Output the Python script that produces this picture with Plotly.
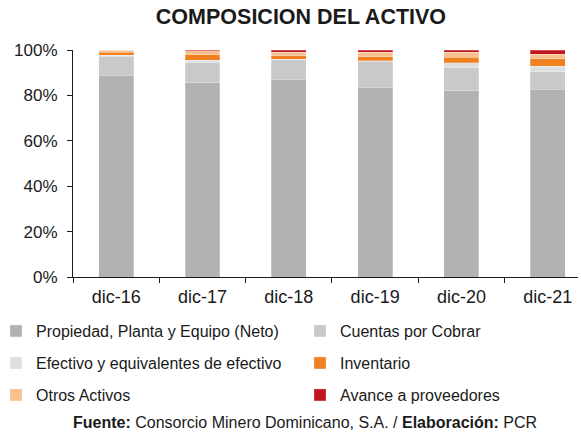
import plotly.graph_objects as go

categories = ["dic-16", "dic-17", "dic-18", "dic-19", "dic-20", "dic-21"]
ppe = [88.9, 85.6, 86.8, 83.3, 82.1, 82.8]
cuentas = [8.3, 8.7, 8.8, 11.7, 10.0, 7.6]
efectivo = [0.4, 1.2, 0.3, 0.3, 2.2, 2.4]
inventario = [1.5, 2.3, 1.6, 1.8, 2.6, 3.4]
otros = [0.9, 1.8, 1.6, 2.0, 2.2, 2.0]
avance = [0.0, 0.4, 0.9, 0.9, 0.9, 1.8]

series_names = ["Propiedad, Planta y Equipo (Neto)", "Cuentas por Cobrar",
                "Efectivo y equivalentes de efectivo", "Inventario",
                "Otros Activos", "Avance a proveedores"]
series_values = [ppe, cuentas, efectivo, inventario, otros, avance]
colors = ["#B1B2B4", "#C8C9CB", "#DEDFE0", "#F08121", "#F9C08F", "#C0161E"]

FONT = "Liberation Sans, Arial, sans-serif"
TXT = "#1a1a1a"

# legend grid: 2 columns x 3 rows, one legend per item
col_x = [-0.1525, 0.4495]
row_y = [-0.238, -0.379, -0.520]

fig = go.Figure()
legends = {}
for i, (name, vals, color) in enumerate(zip(series_names, series_values, colors)):
    key = "legend" if i == 0 else f"legend{i + 1}"
    fig.add_trace(go.Bar(
        x=categories, y=[v / 100 for v in vals], name=name,
        marker=dict(color=color, line=dict(color="rgba(255,255,255,0.5)", width=0.5)),
        legend=key, showlegend=True,
    ))
    legends[key] = dict(
        x=col_x[i % 2], y=row_y[i // 2], xanchor="left", yanchor="middle",
        orientation="h", font=dict(family=FONT, size=16, color=TXT),
        bgcolor="rgba(0,0,0,0)", itemclick=False, itemwidth=30,
    )

fig.update_layout(
    width=581, height=433, showlegend=True,
    barmode="stack", bargap=0.595,
    plot_bgcolor="white", paper_bgcolor="white",
    margin=dict(l=73, r=3, t=50, b=156, autoexpand=False),
    font=dict(family=FONT, color=TXT),
    title=dict(text="<b>COMPOSICION DEL ACTIVO</b>", x=0.518, xanchor="center",
               y=0.963, yanchor="middle", font=dict(family=FONT, size=21.5, color=TXT)),
    xaxis=dict(range=[-0.5, 5.35], showline=True, linecolor=TXT, linewidth=1.2,
               ticks="outside", tickson="boundaries", ticklen=5, tickcolor=TXT,
               ticklabelstandoff=3,
               tickfont=dict(family=FONT, size=18, color=TXT), showgrid=False),
    yaxis=dict(range=[0, 1], tickformat=".0%", dtick=0.2, showline=True,
               linecolor=TXT, linewidth=1.2, ticks="outside", ticklen=5,
               tickcolor=TXT, showgrid=False, zeroline=False, ticklabelstandoff=6,
               tickfont=dict(family=FONT, size=17, color=TXT)),
    annotations=[dict(
        text="<b>Fuente:</b> Consorcio Minero Dominicano, S.A. / <b>Elaboración:</b> PCR",
        xref="paper", yref="paper", x=0.459, y=-0.643, xanchor="center", yanchor="middle",
        showarrow=False, font=dict(family=FONT, size=16, color=TXT))],
    **legends,
)

fig.write_html("out.html", config={"displayModeBar": False},
               post_script="document.body.style.margin='0';document.body.style.overflow='hidden';")
